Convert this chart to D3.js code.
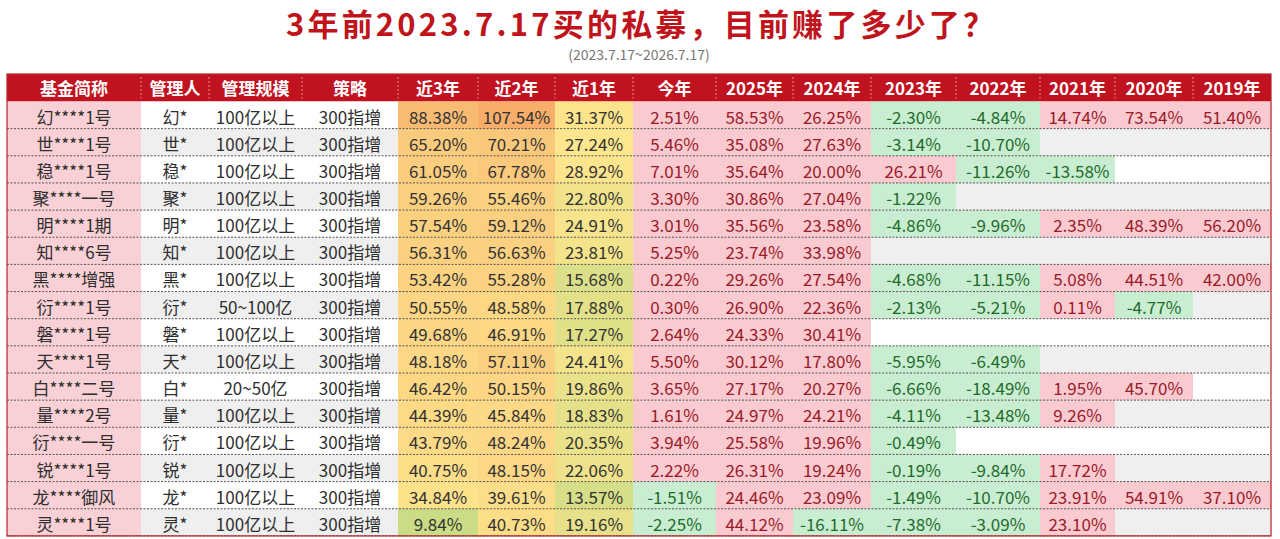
<!DOCTYPE html>
<html>
<head>
<meta charset="utf-8">
<script src="https://cdn.jsdelivr.net/npm/d3@7"></script>
<style>
    body { margin: 0; background: #ffffff; }
    svg { display: block; }
</style>
</head>
<body>
<svg id="chart" width="1280" height="539"></svg>
<script>
const headers = ['基金简称', '管理人', '管理规模', '策略', '近3年', '近2年', '近1年', '今年', '2025年', '2024年', '2023年', '2022年', '2021年', '2020年', '2019年'];

const fundNames = ['幻****1号', '世****1号', '稳****1号', '聚****一号', '明****1期', '知****6号', '黑****增强', '衍****1号', '磐****1号', '天****1号', '白****二号', '量****2号', '衍****一号', '锐****1号', '龙****御风', '灵****1号'];
const managers = ['幻*', '世*', '稳*', '聚*', '明*', '知*', '黑*', '衍*', '磐*', '天*', '白*', '量*', '衍*', '锐*', '龙*', '灵*'];
const sizes = ['100亿以上', '100亿以上', '100亿以上', '100亿以上', '100亿以上', '100亿以上', '100亿以上', '50~100亿', '100亿以上', '100亿以上', '20~50亿', '100亿以上', '100亿以上', '100亿以上', '100亿以上', '100亿以上'];
const strategies = ['300指增', '300指增', '300指增', '300指增', '300指增', '300指增', '300指增', '300指增', '300指增', '300指增', '300指增', '300指增', '300指增', '300指增', '300指增', '300指增'];

const near3 = [88.38, 65.20, 61.05, 59.26, 57.54, 56.31, 53.42, 50.55, 49.68, 48.18, 46.42, 44.39, 43.79, 40.75, 34.84, 9.84];
const near2 = [107.54, 70.21, 67.78, 55.46, 59.12, 56.63, 55.28, 48.58, 46.91, 57.11, 50.15, 45.84, 48.24, 48.15, 39.61, 40.73];
const near1 = [31.37, 27.24, 28.92, 22.80, 24.91, 23.81, 15.68, 17.88, 17.27, 24.41, 19.86, 18.83, 20.35, 22.06, 13.57, 19.16];
const ytd = [2.51, 5.46, 7.01, 3.30, 3.01, 5.25, 0.22, 0.30, 2.64, 5.50, 3.65, 1.61, 3.94, 2.22, -1.51, -2.25];
const y2025 = [58.53, 35.08, 35.64, 30.86, 35.56, 23.74, 29.26, 26.90, 24.33, 30.12, 27.17, 24.97, 25.58, 26.31, 24.46, 44.12];
const y2024 = [26.25, 27.63, 20.00, 27.04, 23.58, 33.98, 27.54, 22.36, 30.41, 17.80, 20.27, 24.21, 19.96, 19.24, 23.09, -16.11];
const y2023 = [-2.30, -3.14, 26.21, -1.22, -4.86, null, -4.68, -2.13, null, -5.95, -6.66, -4.11, -0.49, -0.19, -1.49, -7.38];
const y2022 = [-4.84, -10.70, -11.26, null, -9.96, null, -11.15, -5.21, null, -6.49, -18.49, -13.48, null, -9.84, -10.70, -3.09];
const y2021 = [14.74, null, -13.58, null, 2.35, null, 5.08, 0.11, null, null, 1.95, 9.26, null, 17.72, 23.91, 23.10];
const y2020 = [73.54, null, null, null, 48.39, null, 44.51, -4.77, null, null, 45.70, null, null, null, 54.91, null];
const y2019 = [51.40, null, null, null, 56.20, null, 42.00, null, null, null, null, null, null, null, 37.10, null];

// layout
const opt = {
    width: 1280,
    height: 539,
    table_left: 7,
    header_top: 74,
    header_height: 27.5,
    row_height: 27.15,
    col_widths: [134, 68, 93, 96, 80, 77, 78, 83, 77, 78, 85, 84, 75, 78, 78],
    font: '"Noto Sans CJK SC", "Noto Sans", sans-serif',
    red: '#c1121f',
    name_fill: '#f9d0d5',
    pos_fill: '#f9cad0',
    neg_fill: '#c9edd1',
    pos_text: '#9a1a28',
    neg_text: '#1f6b2c',
    even_fill: '#efefef'
};

const textCols = [fundNames, managers, sizes, strategies];
const heatCols = [near3, near2, near1];
const signCols = [ytd, y2025, y2024, y2023, y2022, y2021, y2020, y2019];

const svg = d3.select('#chart');
const locale = d3.formatLocale({ decimal: '.', thousands: ',', grouping: [3], currency: ['', ''], minus: '-' });
const fmt = v => locale.format('.2f')(v) + '%';

// column edges from widths
const edges = [opt.table_left].concat(Array.from(d3.cumsum(opt.col_widths), d => d + opt.table_left));
const xScale = d3.scaleOrdinal().domain(headers).range(edges.slice(0, -1));
const wScale = d3.scaleOrdinal().domain(headers).range(opt.col_widths);
const bodyTop = opt.header_top + opt.header_height;
const yScale = d3.scaleBand()
    .domain(d3.range(fundNames.length))
    .range([bodyTop, bodyTop + opt.row_height * fundNames.length])
    .paddingInner(0);
const tableRight = edges[edges.length - 1];
const tableBottom = yScale.range()[1];

// title
svg.append('text')
    .attr('x', 640)
    .attr('y', 22)
    .attr('text-anchor', 'middle')
    .attr('dominant-baseline', 'central')
    .attr('textLength', 708)
    .attr('lengthAdjust', 'spacing')
    .style('font-family', opt.font)
    .style('font-size', '31px')
    .style('font-weight', 'bold')
    .attr('fill', '#c0141c')
    .text('3年前2023.7.17买的私募，目前赚了多少了？');

svg.append('text')
    .attr('x', 639)
    .attr('y', 54)
    .attr('text-anchor', 'middle')
    .attr('dominant-baseline', 'central')
    .style('font-family', opt.font)
    .style('font-size', '14px')
    .attr('fill', '#777777')
    .text('(2023.7.17~2026.7.17)');

// header
svg.append('rect')
    .attr('x', opt.table_left)
    .attr('y', opt.header_top)
    .attr('width', tableRight - opt.table_left)
    .attr('height', opt.header_height)
    .attr('fill', opt.red);

const header = svg.append('g').attr('id', 'header');
header.selectAll('text')
    .data(headers)
    .join('text')
    .attr('x', d => xScale(d) + wScale(d) / 2)
    .attr('y', opt.header_top + opt.header_height / 2)
    .attr('text-anchor', 'middle')
    .attr('dominant-baseline', 'central')
    .style('font-family', opt.font)
    .style('font-size', '17px')
    .style('font-weight', 'bold')
    .attr('fill', '#ffffff')
    .text(d => d);

header.selectAll('line')
    .data(headers.slice(1))
    .join('line')
    .attr('x1', d => xScale(d))
    .attr('x2', d => xScale(d))
    .attr('y1', opt.header_top + 3)
    .attr('y2', opt.header_top + opt.header_height - 3)
    .attr('stroke', '#e98c8c')
    .attr('stroke-dasharray', '2,2');

// one colour scale over the three trailing-return columns
const heatValues = near3.concat(near2, near1).sort(d3.ascending);
const heatScale = d3.scaleLinear()
    .domain([heatValues[0], d3.quantile(heatValues, 0.3), heatValues[heatValues.length - 1]])
    .range(['#cbdc86', '#fde68e', '#f8ad6a'])
    .interpolate(d3.interpolateRgb);

const cells = [];
fundNames.forEach((name, i) => {
    textCols.forEach((col, c) => {
        cells.push({
            row: i, key: headers[c], text: col[i],
            fill: c === 0 ? opt.name_fill : (i % 2 === 1 ? opt.even_fill : '#ffffff'),
            color: '#2e2e2e'
        });
    });
    heatCols.forEach((col, c) => {
        cells.push({
            row: i, key: headers[4 + c], text: fmt(col[i]),
            fill: heatScale(col[i]),
            color: '#333333'
        });
    });
    signCols.forEach((col, c) => {
        const v = col[i];
        cells.push({
            row: i, key: headers[7 + c], text: v === null ? '' : fmt(v),
            fill: v === null ? (i % 2 === 1 ? opt.even_fill : '#ffffff') : (v < 0 ? opt.neg_fill : opt.pos_fill),
            color: v !== null && v < 0 ? opt.neg_text : opt.pos_text
        });
    });
});

const body = svg.append('g').attr('id', 'body');

body.selectAll('rect')
    .data(cells)
    .join('rect')
    .attr('x', d => xScale(d.key))
    .attr('y', d => yScale(d.row))
    .attr('width', d => wScale(d.key) + 0.5)
    .attr('height', yScale.bandwidth() + 0.5)
    .attr('fill', d => d.fill);

body.selectAll('text')
    .data(cells.filter(d => d.text !== ''))
    .join('text')
    .attr('x', d => xScale(d.key) + wScale(d.key) / 2)
    .attr('y', d => yScale(d.row) + yScale.bandwidth() / 2 + 1)
    .attr('text-anchor', 'middle')
    .attr('dominant-baseline', 'central')
    .style('font-family', opt.font)
    .style('font-size', '17px')
    .attr('fill', d => d.color)
    .text(d => d.text);

// dashed row separators
body.selectAll('line')
    .data(d3.range(1, fundNames.length + 1))
    .join('line')
    .attr('x1', opt.table_left)
    .attr('x2', tableRight)
    .attr('y1', d => yScale(d - 1) + yScale.bandwidth())
    .attr('y2', d => yScale(d - 1) + yScale.bandwidth())
    .attr('stroke', '#555555')
    .attr('stroke-width', 1)
    .attr('stroke-dasharray', '2,1.5');

// outer border
svg.append('rect')
    .attr('x', opt.table_left)
    .attr('y', opt.header_top)
    .attr('width', tableRight - opt.table_left)
    .attr('height', tableBottom - opt.header_top)
    .attr('fill', 'none')
    .attr('stroke', '#b8242c')
    .attr('stroke-width', 1.2);
</script>
</body>
</html>
